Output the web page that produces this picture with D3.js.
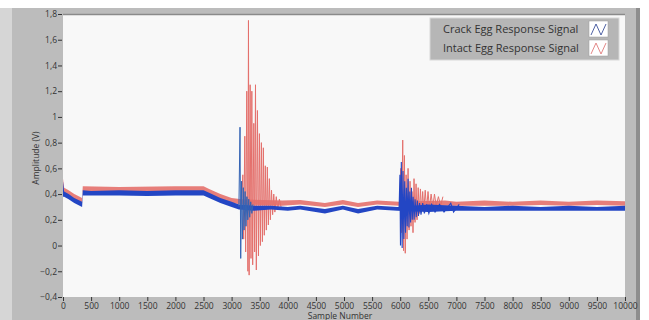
<!DOCTYPE html>
<html>
<head>
<meta charset="utf-8">
<script src="https://cdn.jsdelivr.net/npm/d3@7"></script>
<style>
  body { margin: 0; background: #fff; }
  svg { display: block; font-family: "Open Sans", "Noto Sans", sans-serif; }
</style>
</head>
<body>
<svg id="chart" width="649" height="320"></svg>
<script>
// axis ticks
const xTicks = d3.range(0, 10001, 500);
const yTicks = [-0.4, -0.2, 0, 0.2, 0.4, 0.6, 0.8, 1, 1.2, 1.4, 1.6, 1.8];

// baseline bands (sample, low, high)
const crackBand = [
  [0, 0.38, 0.50], [20, 0.38, 0.42], [100, 0.36, 0.40], [200, 0.33, 0.37],
  [340, 0.30, 0.34], [352, 0.39, 0.43], [500, 0.39, 0.425], [1000, 0.39, 0.43],
  [1500, 0.385, 0.425], [2000, 0.39, 0.43], [2500, 0.39, 0.43], [2600, 0.37, 0.41],
  [2800, 0.33, 0.37], [3000, 0.30, 0.34], [3130, 0.28, 0.32], [3400, 0.27, 0.31],
  [3700, 0.28, 0.31], [4000, 0.27, 0.30], [4220, 0.28, 0.31], [4660, 0.25, 0.285],
  [4980, 0.28, 0.31], [5250, 0.25, 0.285], [5590, 0.28, 0.31], [5950, 0.27, 0.30],
  [6500, 0.26, 0.32], [7000, 0.27, 0.31], [7500, 0.27, 0.30], [8000, 0.27, 0.31],
  [8500, 0.27, 0.30], [9000, 0.27, 0.31], [9500, 0.27, 0.30], [10000, 0.27, 0.31]
];
const intactBand = [
  [0, 0.40, 0.52], [20, 0.41, 0.45], [100, 0.39, 0.43], [200, 0.36, 0.40],
  [340, 0.33, 0.37], [352, 0.42, 0.46], [1000, 0.42, 0.455], [2000, 0.42, 0.46],
  [2500, 0.42, 0.46], [2600, 0.40, 0.44], [2800, 0.36, 0.40], [3000, 0.33, 0.37],
  [3180, 0.32, 0.36], [3900, 0.31, 0.35], [4220, 0.32, 0.355], [4660, 0.30, 0.33],
  [4980, 0.32, 0.355], [5250, 0.30, 0.33], [5590, 0.32, 0.35], [5980, 0.31, 0.34],
  [6800, 0.31, 0.35], [7000, 0.31, 0.34], [7500, 0.31, 0.35], [8000, 0.31, 0.34],
  [8500, 0.315, 0.35], [9000, 0.31, 0.34], [9500, 0.315, 0.35], [10000, 0.31, 0.345]
];

// impact bursts (sample, amplitude)
const crackBurst1 = [
  [3130, 0.30], [3150, 0.92], [3162, -0.10], [3178, 0.50], [3192, 0.05], [3208, 0.45],
  [3222, 0.12], [3240, 0.42], [3256, 0.15], [3272, 0.38], [3288, 0.20], [3305, 0.36],
  [3322, 0.22], [3340, 0.34], [3360, 0.25], [3380, 0.32]
];
const intactBurst1 = [
  [3180, 0.36], [3200, 0.55], [3215, 0.05], [3235, 0.85], [3250, -0.05], [3270, 1.20],
  [3290, -0.20], [3300, 1.75], [3312, -0.23], [3330, 1.25], [3345, -0.10], [3360, 1.20],
  [3375, -0.15], [3395, 0.95], [3410, -0.05], [3425, 1.25], [3440, -0.19], [3460, 1.05],
  [3478, -0.08], [3495, 0.87], [3512, 0.00], [3530, 0.80], [3548, 0.03], [3565, 0.76],
  [3582, 0.08], [3600, 0.62], [3618, 0.12], [3636, 0.61], [3654, 0.16], [3672, 0.52],
  [3690, 0.20], [3710, 0.43], [3730, 0.24], [3750, 0.40], [3770, 0.26], [3795, 0.38],
  [3820, 0.28], [3850, 0.36], [3880, 0.30]
];
const crackBurst2 = [
  [5980, 0.28], [5995, 0.55], [6005, 0.00], [6020, 0.65], [6035, -0.02], [6050, 0.58],
  [6065, 0.05], [6080, 0.50], [6095, 0.10], [6110, 0.45], [6125, 0.15], [6140, 0.52],
  [6155, 0.14], [6170, 0.42], [6185, 0.18], [6200, 0.45], [6215, 0.20], [6230, 0.38],
  [6248, 0.20], [6265, 0.36], [6285, 0.22], [6305, 0.35], [6325, 0.23], [6345, 0.33],
  [6370, 0.24], [6400, 0.33], [6430, 0.25], [6470, 0.32], [6510, 0.25], [6560, 0.32],
  [6620, 0.26], [6700, 0.32], [6780, 0.26], [6900, 0.33], [6950, 0.26], [7050, 0.32]
];
const intactBurst2 = [
  [5990, 0.32], [6010, 0.60], [6025, 0.10], [6045, 0.82], [6060, -0.04], [6075, 0.70],
  [6090, -0.06], [6105, 0.55], [6122, 0.05], [6140, 0.60], [6158, 0.12], [6175, 0.50],
  [6192, 0.15], [6210, 0.42], [6228, 0.10], [6246, 0.52], [6264, 0.18], [6282, 0.48],
  [6300, 0.20], [6320, 0.45], [6340, 0.25], [6360, 0.44], [6380, 0.26], [6400, 0.42],
  [6420, 0.27], [6445, 0.43], [6470, 0.28], [6495, 0.42], [6520, 0.29], [6550, 0.40],
  [6580, 0.30], [6610, 0.40], [6640, 0.31], [6680, 0.38], [6720, 0.31], [6760, 0.38]
];

const seriesNames = ["Crack Egg Response Signal", "Intact Egg Response Signal"];
const blue = "#2346c4", red = "#e4706c";

const svg = d3.select("#chart");
const W = 649, H = 320;
const plotL = 63, plotR = 625, plotT = 14, plotB = 297;

// LabVIEW-ish gray frame
svg.append("rect").attr("width", W).attr("height", H).attr("fill", "#fff");
svg.append("rect").attr("x", 0).attr("y", 8).attr("width", 12).attr("height", H - 8).attr("fill", "#d6d6d6");
svg.append("rect").attr("x", 12).attr("y", 8).attr("width", 624).attr("height", H - 8).attr("fill", "#bcbcbc");
svg.append("rect").attr("x", 636).attr("y", 8).attr("width", 4).attr("height", H - 8).attr("fill", "#8e8e8e");

const x = d3.scaleLinear().domain([0, 10000]).range([plotL, plotR]);
const y = d3.scaleLinear().domain([-0.4, 1.8]).range([plotB, plotT]);

svg.append("rect").attr("x", plotL).attr("y", plotT).attr("width", plotR - plotL).attr("height", plotB - plotT)
  .attr("fill", "#f8f8f8");
svg.append("line").attr("x1", plotL).attr("x2", plotR).attr("y1", plotT + 0.5).attr("y2", plotT + 0.5)
  .attr("stroke", "#8a8a8a").attr("stroke-width", 1.5);

const plot = svg.append("g");
const area = d3.area().x(d => x(d[0])).y0(d => y(d[1])).y1(d => y(d[2]));
const line = d3.line().x(d => x(d[0])).y(d => y(d[1]));

plot.append("path").attr("d", area(intactBand)).attr("fill", red).attr("opacity", 0.9);
plot.append("path").attr("d", line(intactBurst1)).attr("fill", "none").attr("stroke", red).attr("stroke-width", 1);
plot.append("path").attr("d", line(intactBurst2)).attr("fill", "none").attr("stroke", red).attr("stroke-width", 1);
plot.append("path").attr("d", area(crackBand)).attr("fill", blue);
plot.append("path").attr("d", line(crackBurst1)).attr("fill", "none").attr("stroke", "#3463b4").attr("stroke-width", 1);
plot.append("path").attr("d", line(crackBurst2)).attr("fill", "none").attr("stroke", blue).attr("stroke-width", 1.1);

// axes
const fmt = v => d3.format("~g")(+v.toFixed(1)).replace(".", ",");
const yAxis = svg.append("g").attr("transform", `translate(${plotL - 1},0)`)
  .call(d3.axisLeft(y).tickValues(yTicks).tickFormat(fmt).tickSize(4).tickPadding(1));
const xAxis = svg.append("g").attr("transform", `translate(0,${plotB})`)
  .call(d3.axisBottom(x).tickValues(xTicks).tickFormat(d3.format("d")).tickSize(4).tickPadding(2));
[yAxis, xAxis].forEach(a => {
  a.select(".domain").remove();
  a.selectAll(".tick line").attr("stroke", "#333");
  a.selectAll(".tick text").attr("fill", "#333").attr("font-size", 8.5)
    .attr("font-family", "'Open Sans', sans-serif");
});

svg.append("text").attr("transform", "translate(39,158) rotate(-90)")
  .attr("text-anchor", "middle").attr("font-size", 8.5).attr("fill", "#333").text("Amplitude (V)");
svg.append("text").attr("x", 340).attr("y", 319)
  .attr("text-anchor", "middle").attr("font-size", 8.5).attr("fill", "#333").text("Sample Number");

// legend
const lg = svg.append("g");
lg.append("rect").attr("x", 430).attr("y", 18).attr("width", 189).attr("height", 42)
  .attr("fill", "#b6b6b6").attr("stroke", "#d8d8d8").attr("stroke-width", 1);
const glyph = [[0, 13], [5, 2], [10, 13], [15, 2]];
seriesNames.forEach((name, i) => {
  const yy = 21 + i * 19;
  lg.append("text").attr("x", 443).attr("y", yy + 12).attr("font-size", 11).attr("fill", "#333").text(name);
  lg.append("rect").attr("x", 589).attr("y", yy).attr("width", 19).attr("height", 16)
    .attr("fill", "#fff").attr("stroke", "#9a9a9a").attr("stroke-width", 0.5);
  lg.append("path").attr("transform", `translate(591,${yy + 1})`)
    .attr("d", d3.line()(glyph)).attr("fill", "none")
    .attr("stroke", i === 0 ? "#3a4f9a" : "#e07a7a").attr("stroke-width", 0.9);
});
</script>
</body>
</html>
